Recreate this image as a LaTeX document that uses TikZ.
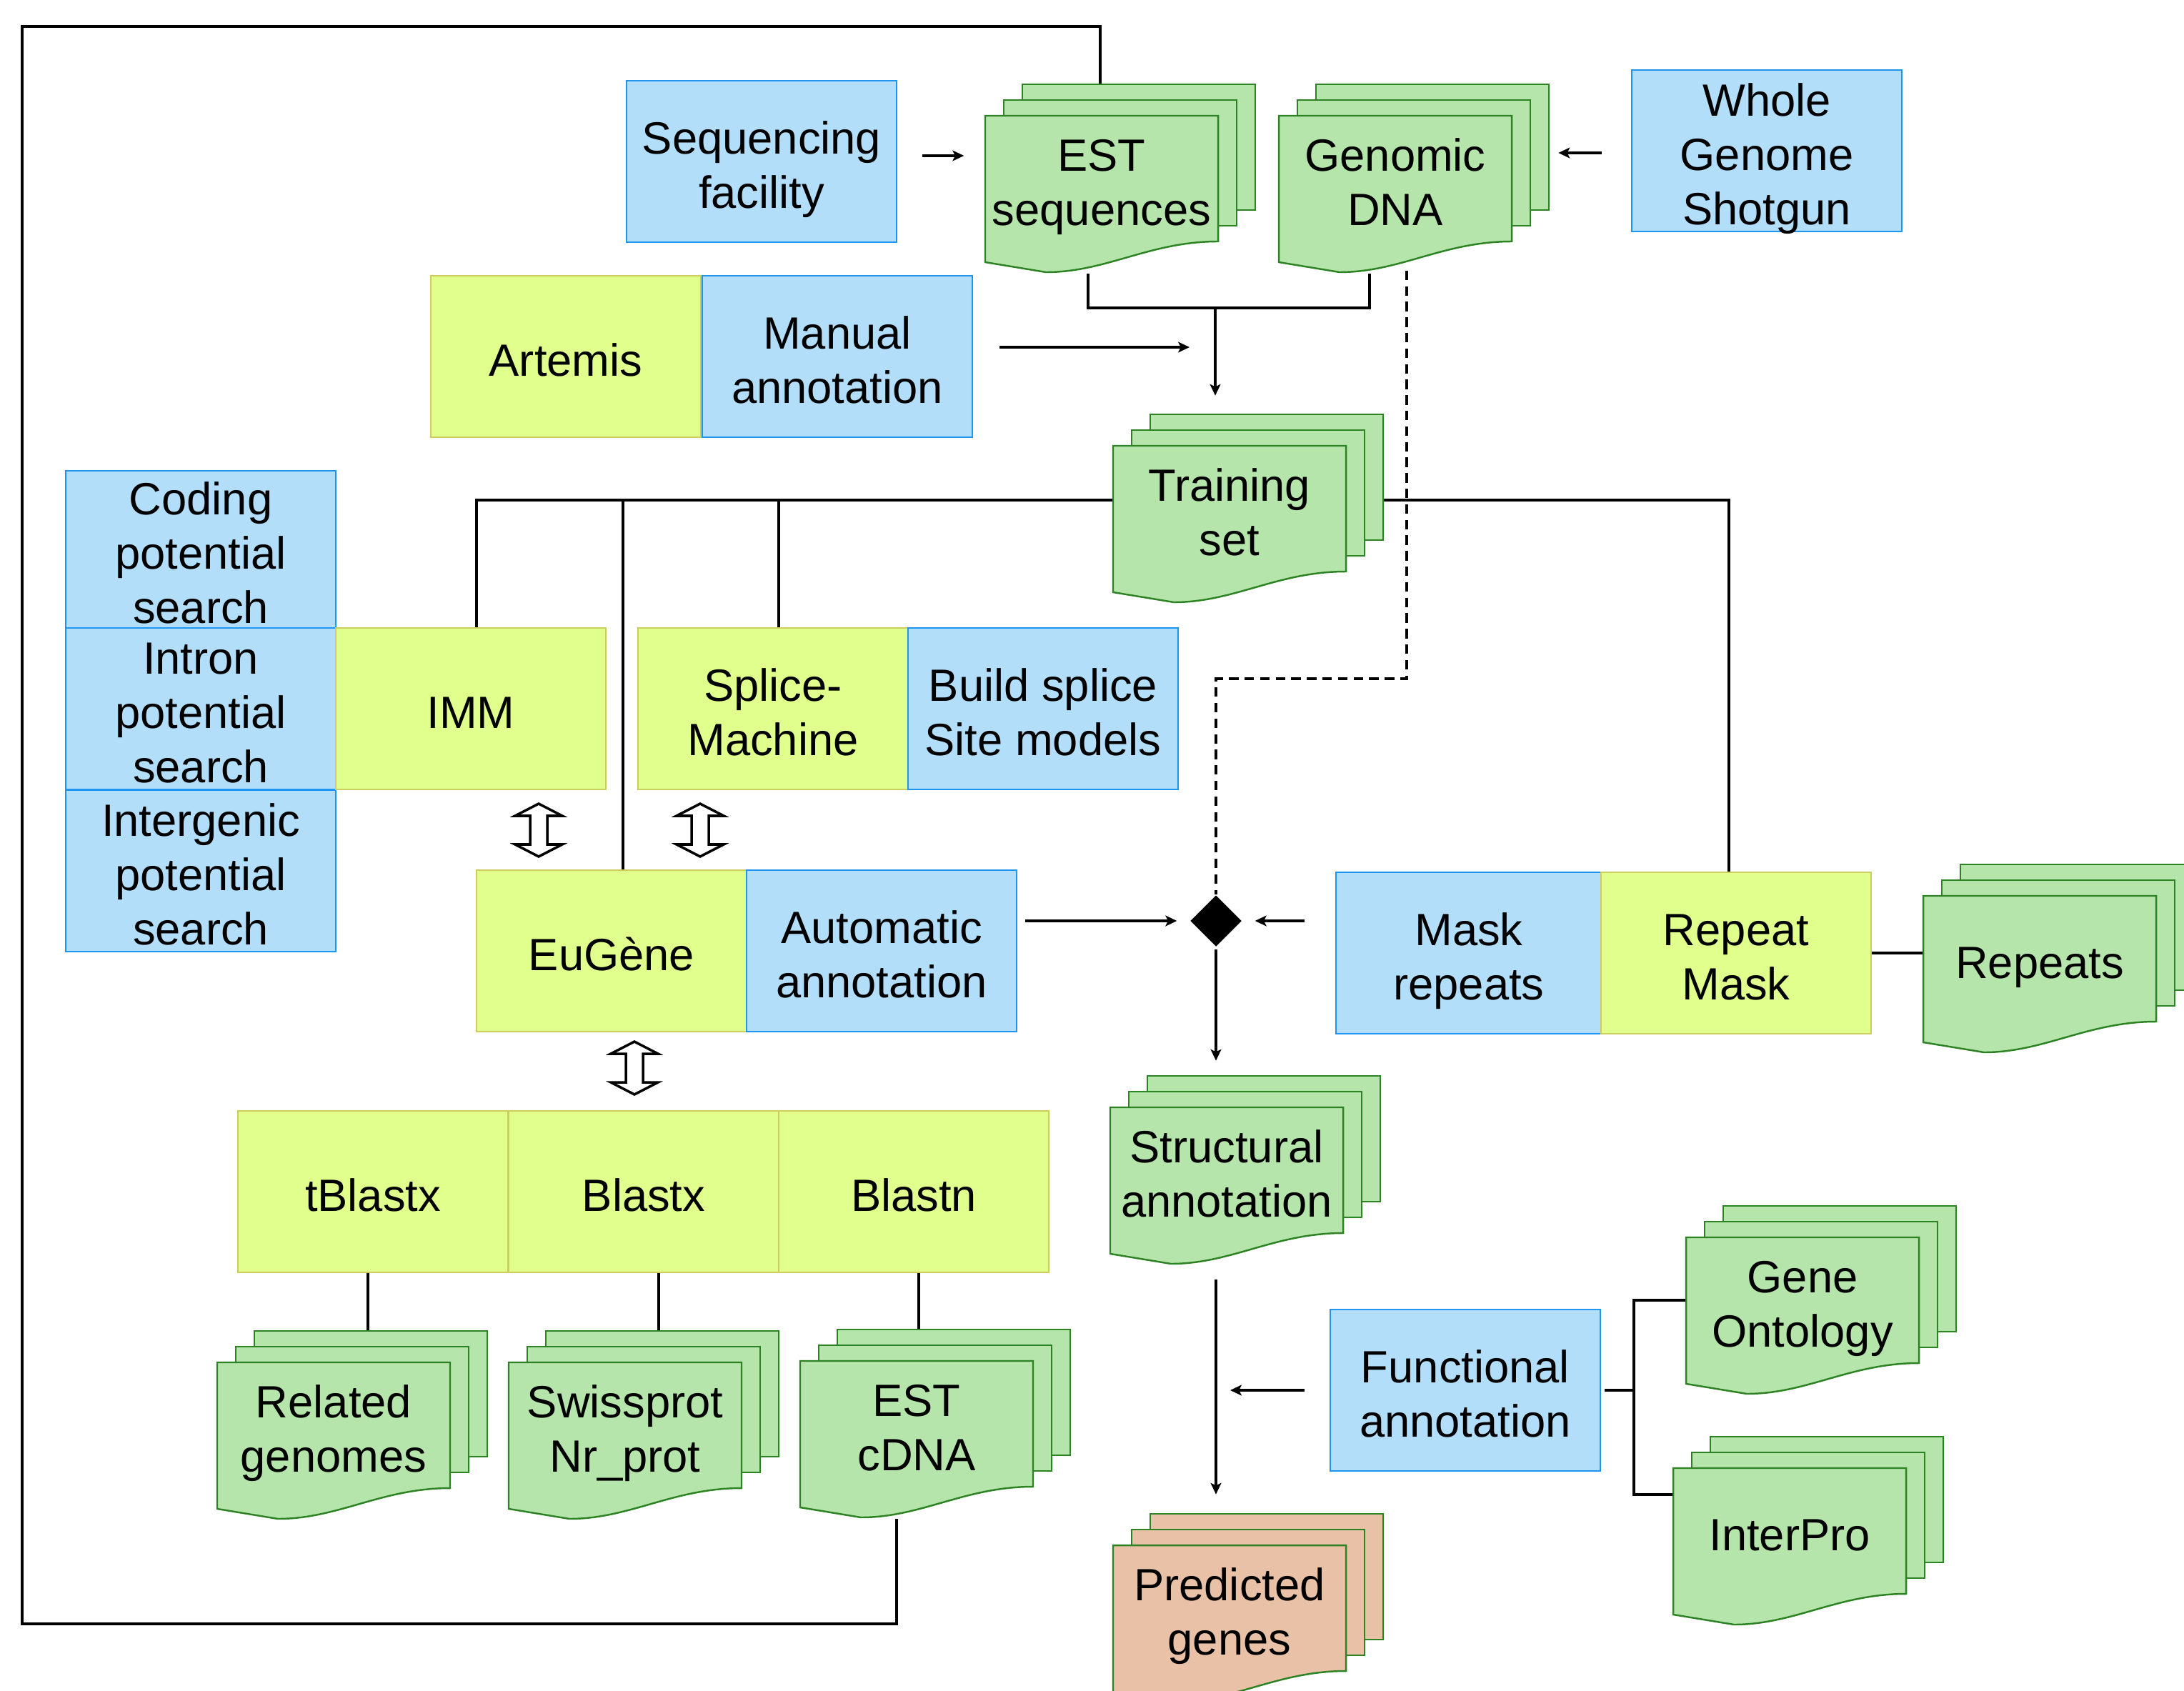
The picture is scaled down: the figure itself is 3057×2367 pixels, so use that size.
\documentclass[tikz,border=0pt]{standalone}
\usepackage{fontspec}
\setmainfont{Liberation Sans}
\usetikzlibrary{calc,arrows.meta,shapes.geometric}

\definecolor{bluefill}{RGB}{179,222,250}
\definecolor{blueline}{RGB}{30,150,240}
\definecolor{limefill}{RGB}{225,255,140}
\definecolor{limeline}{RGB}{205,205,95}
\definecolor{docfill}{RGB}{182,229,172}
\definecolor{docline}{RGB}{45,130,35}
\definecolor{genefill}{RGB}{232,193,167}

\newcommand{\diagfont}{\fontsize{18}{21.6}\selectfont}
% centred lines, sitting a little low in their box
\newcommand{\txtblock}[1]{\raisebox{0pt}[17.8pt][2.2pt]{\begin{tabular}{@{}c@{}}#1\end{tabular}}}

\tikzset{
  box/.style={draw, line width=.6pt, minimum width=3.78cm, minimum height=2.26cm, inner sep=0pt, font=\diagfont},
  bluebox/.style={box, fill=bluefill, draw=blueline},
  limebox/.style={box, fill=limefill, draw=limeline},
  sheettext/.style={minimum width=3.26cm, minimum height=1.76cm, inner sep=0pt, font=\diagfont},
  backsheet/.style={draw=docline, line width=.7pt, minimum width=3.26cm, minimum height=1.76cm, inner sep=0pt},
  frontsheet/.style={draw=docline, line width=.7pt},
  link/.style={line width=1pt},
  arr/.style={link, -{Stealth[length=4.5pt,width=4.2pt,inset=1pt]}},
  dashlink/.style={link, dash pattern=on 3.8pt off 2.4pt},
  dblarr/.pic={
    \draw[line width=1pt, fill=white] (0,-37) -- (33,-20) -- (12,-20) -- (12,20) -- (33,20) -- (0,37)
      -- (-33,20) -- (-12,20) -- (-12,-20) -- (-33,-20) -- cycle;
  }
}

% stack of three sheets, front one with a wavy bottom
\newcommand{\docstack}[4]{%
  \coordinate (#1-c) at (#2);
  \node[backsheet, fill=#3] (#1-3) at ($(#1-c)+(52,-44)$) {};
  \node[backsheet, fill=#3] (#1-2) at ($(#1-c)+(26,-22)$) {};
  \draw[frontsheet, fill=#3] ($(#1-c)+(-163,-88)$) -- ($(#1-c)+(163,-88)$) -- ($(#1-c)+(163,88)$)
    .. controls ($(#1-c)+(67,88)$) and ($(#1-c)+(7,131)$) .. ($(#1-c)+(-78,131)$)
    -- ($(#1-c)+(-163,117)$) -- cycle;
  \node[sheettext] (#1) at (#1-c) {\txtblock{#4}};
}

\begin{document}
\begin{tikzpicture}[x=0.01cm, y=-0.01cm]
    \useasboundingbox (0,0) rectangle (3057,2367);
    \clip (0,0) rectangle (3057,2367);
    \fill[white] (0,0) rectangle (3057,2367);

    \node[bluebox] (seqfac) at (1066,226) {\txtblock{Sequencing\\facility}};
    \node[limebox] (artemis) at (792,499) {\txtblock{Artemis}};
    \node[bluebox] (manual) at (1172,499) {\txtblock{Manual\\annotation}};
    \node[bluebox] (wgs) at (2473,211) {\txtblock{Whole\\Genome\\Shotgun}};

    \node[bluebox, minimum height=2.2cm] (coding) at (281,769) {\txtblock{Coding\\potential\\search}};
    \node[bluebox] (intron) at (281,992) {\txtblock{Intron\\potential\\search}};
    \node[bluebox] (intergenic) at (281,1219) {\txtblock{Intergenic\\potential\\search}};
    \node[limebox] (imm) at (659,992) {\txtblock{IMM}};
    \node[limebox] (splice) at (1082,992) {\txtblock{Splice-\\Machine}};
    \node[bluebox] (build) at (1460,992) {\txtblock{Build splice\\Site models}};

    \node[limebox] (eugene) at (856,1331) {\txtblock{EuGène}};
    \node[bluebox] (auto) at (1234,1331) {\txtblock{Automatic\\annotation}};
    \node[bluebox, minimum width=3.71cm] (mask) at (2056,1334) {\txtblock{Mask\\repeats}};
    \node[limebox] (repeatmask) at (2430,1334) {\txtblock{Repeat\\Mask}};

    \node[limebox] (tblastx) at (522,1668) {\txtblock{tBlastx}};
    \node[limebox] (blastx) at (901,1668) {\txtblock{Blastx}};
    \node[limebox] (blastn) at (1279,1668) {\txtblock{Blastn}};
    \node[bluebox] (functional) at (2051,1946) {\txtblock{Functional\\annotation}};

    \docstack{est}{1542,250}{docfill}{EST\\sequences}
    \docstack{genomic}{1953,250}{docfill}{Genomic\\DNA}
    \docstack{training}{1721,712}{docfill}{Training\\set}
    \docstack{repeats}{2855,1342}{docfill}{Repeats}
    \docstack{structural}{1717,1638}{docfill}{Structural\\annotation}
    \docstack{related}{467,1995}{docfill}{Related\\genomes}
    \docstack{swiss}{875,1995}{docfill}{Swissprot\\Nr\_prot}
    \docstack{estcdna}{1283,1993}{docfill}{EST\\cDNA}
    \docstack{geneonto}{2523,1820}{docfill}{Gene\\Ontology}
    \docstack{interpro}{2505,2143}{docfill}{InterPro}
    \docstack{predicted}{1721,2251}{genefill}{Predicted\\genes}

    \node[diamond, fill=black, minimum width=.72cm, minimum height=.72cm, inner sep=0pt] (join) at (1702,1289) {};

    \pic at (754,1162) {dblarr};
    \pic at (980,1162) {dblarr};
    \pic at (888,1495) {dblarr};

    \coordinate (bus1) at (667,700);
    \coordinate (bus2) at (872,700);
    \coordinate (bus3) at (1090,700);
    \coordinate (bus4) at (2420,700);
    \coordinate (mergeL) at (1523,431);
    \coordinate (mergeR) at (1917,431);
    \coordinate (merge) at (1701,431);
    \coordinate (dashK) at (1969,950);
    \coordinate (funcK) at (2287,1946);
    \coordinate (funcI) at (2287,2092);
    \coordinate (seqout) at ($(seqfac.east)+(0,-8)$);
    \coordinate (manout) at ($(manual.east)+(0,-13)$);
    \coordinate (wgsout) at ($(wgs.west)+(0,3)$);
    \coordinate (txs) at ($(tblastx.south)+(-7,0)$);
    \coordinate (bxs) at ($(blastx.south)+(21,0)$);
    \coordinate (bns) at ($(blastn.south)+(7,0)$);
    \coordinate (loopS) at (1255,2273);
    \coordinate (loopW) at (31,2273);
    \coordinate (loopN) at (31,37);
    \coordinate (loopE) at (1540,37);

    \draw[arr, shorten <=.35cm, shorten >=.29cm] (seqout) -- (seqout -| est.west);
    \draw[arr, shorten <=.41cm, shorten >=.12cm] (wgsout) -- (wgsout -| genomic-3.east);
    \draw[link, shorten <=.44cm, shorten >=.44cm] (mergeL |- est.south) -- (mergeL) -- (mergeR) -- (mergeR |- genomic.south);
    \draw[arr, shorten >=.25cm] (merge) -- (merge |- training-3.north);
    \draw[arr, shorten <=.37cm, shorten >=.36cm] (manout) -- (manout -| merge);

    \draw[link] (bus1 -| training.west) -- (bus1) -- (bus1 |- imm.north);
    \draw[link] (bus2) -- (bus2 |- eugene.north);
    \draw[link] (bus3) -- (bus3 |- splice.north);
    \draw[link] (bus4 -| training-3.east) -- (bus4) -- (bus4 |- repeatmask.north);

    \draw[dashlink, shorten <=.4cm] (dashK |- genomic.south) -- (dashK) -| (join.north);
    \draw[arr, shorten <=.11cm, shorten >=.18cm] (auto.east |- join.west) -- (join.west);
    \draw[arr, shorten <=.43cm, shorten >=.18cm] (mask.west |- join.east) -- (join.east);
    \draw[arr, shorten <=.03cm, shorten >=.2cm] (join.south) -- (join.south |- structural-3.north);
    \draw[link] (repeatmask.east) -- (repeatmask.east -| repeats.west);

    \draw[arr, shorten <=.64cm, shorten >=.26cm] (structural.south -| join) -- (predicted-3.north -| join);
    \draw[arr, shorten <=.35cm, shorten >=.2cm] (functional.west) -- (functional.west -| join);
    \draw[link, shorten <=.05cm] (functional.east) -- (funcK);
    \draw[link] (geneonto.west) -- (geneonto.west -| funcK) -- (funcI) -- (funcI -| interpro.west);

    \draw[link] (txs) -- (txs |- related-3.north);
    \draw[link] (bxs) -- (bxs |- swiss-3.north);
    \draw[link] (bns) -- (bns |- estcdna-3.north);

    \draw[link, shorten <=.44cm] (loopS |- estcdna.south) -- (loopS) -- (loopW) -- (loopN) -- (loopE) -- (loopE |- est-3.north);
\end{tikzpicture}
\end{document}
